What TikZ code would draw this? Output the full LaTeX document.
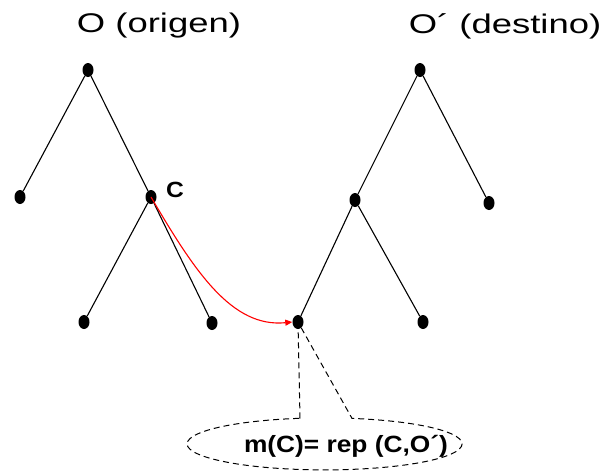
\documentclass[tikz,border=0pt]{standalone}
\usepackage{fontspec}
\setmainfont{Liberation Sans}
\newfontfamily\titlefont[FakeStretch=1.35]{Liberation Sans}
\newfontfamily\labelfont[FakeStretch=1.12]{Liberation Sans}
\usetikzlibrary{shapes.geometric,arrows.meta}
\begin{document}
\begin{tikzpicture}[x=1pt,y=-1pt,
  vertex/.style={ellipse,fill=black,inner sep=0pt,minimum width=11pt,minimum height=14pt},
  treeedge/.style={line width=1.1pt},
  title/.style={inner sep=0pt,font=\titlefont\fontsize{27}{30}\selectfont},
  tag/.style={inner sep=0pt,font=\labelfont\bfseries\fontsize{22}{26}\selectfont},
  mapping/.style={red,line width=1.1pt,-{Triangle[length=7pt,width=6pt]}},
  callout/.style={dashed,dash pattern=on 6pt off 4pt,line width=1pt}]
\useasboundingbox (0,0) rectangle (605,475);

% titles
\node[title] (tO) at (159,26) {O (origen)};
\node[title] (tD) at (505,26) {O´ (destino)};

% source tree
\node[vertex] (ra)  at (88,70)  {};
\node[vertex] (la)  at (20,197) {};
\node[vertex] (c)   at (151,197) {};
\node[vertex] (cl)  at (84,322) {};
\node[vertex] (cr)  at (212,323) {};

% destination tree
\node[vertex] (rb)  at (420,70)  {};
\node[vertex] (lb)  at (355,200) {};
\node[vertex] (rrb) at (489,203) {};
\node[vertex] (rll) at (298,322) {};
\node[vertex] (rlr) at (423,322) {};

\draw[treeedge] (ra) -- (la);
\draw[treeedge] (ra) -- (c);
\draw[treeedge] (c) -- (cl);
\draw[treeedge] (c) -- (cr);
\draw[treeedge] (rb) -- (lb);
\draw[treeedge] (rb) -- (rrb);
\draw[treeedge] (lb) -- (rll);
\draw[treeedge] (lb) -- (rlr);

\node[tag] (cname) at (175,190) {C};

% mapping of C into the destination tree
\draw[mapping] (c.center) .. controls (195,272) and (232,328) .. (rll.west);

% callout with the mapping expression
\coordinate (pl) at (300,418.4);
\coordinate (pr) at (352,418.4);
\draw[callout] (pl) -- (rll) -- (pr)
  arc[start angle=78.5,end angle=-259.7,x radius=137.5pt,y radius=26pt];
\node[tag,font=\labelfont\bfseries\fontsize{23.5}{28}\selectfont] (expr) at (346,446) {m(C)= rep (C,O´)};
\end{tikzpicture}
\end{document}
